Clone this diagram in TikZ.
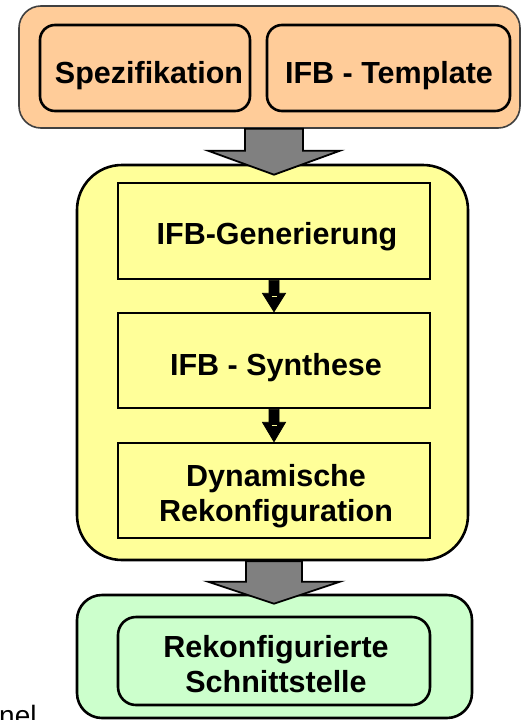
\documentclass[tikz,border=0pt]{standalone}
\usepackage{fontspec}
\setmainfont{Liberation Sans}
\usetikzlibrary{calc}
\definecolor{peach}{HTML}{FFCC99}
\definecolor{lightyellow}{HTML}{FFFF99}
\definecolor{mint}{HTML}{CCFFCC}
\definecolor{arrowgray}{HTML}{808080}
\begin{document}
\begin{tikzpicture}[x=1pt,y=-1pt,
  boxtext/.style={font=\fontsize{30.5}{35}\selectfont\bfseries, inner sep=0pt, anchor=base},
  outerbox/.style={draw=black, line width=2.6pt, rounded corners=#1},
  innerbox/.style={draw=black, line width=2.6pt},
  blockarrow/.style={draw=black, line width=1.8pt, fill=arrowgray, line join=miter},
  smallarrow/.style={fill=black, draw=black, line width=0.8pt}]
\useasboundingbox (0,0) rectangle (521,720);

% input stage
\node[outerbox=22pt, draw=black!75, line width=1.6pt, fill=peach,
      minimum width=501pt, minimum height=122pt] (input) at (269.5,67) {};
\node[innerbox, rounded corners=15pt, fill=peach,
      minimum width=210pt, minimum height=86pt] (spez) at (145,68) {};
\node[innerbox, rounded corners=15pt, fill=peach,
      minimum width=243pt, minimum height=86pt] (tmpl) at (388.5,68) {};
\node[boxtext] (spezT) at (149,83) {Spezifikation};
\node[boxtext] (tmplT) at (389,83) {IFB - Template};

% processing stage
\node[outerbox=45pt, fill=lightyellow,
      minimum width=391pt, minimum height=395pt] (proc) at (272.5,362.5) {};
\node[innerbox, fill=lightyellow,
      minimum width=312pt, minimum height=96pt] (gen) at (274,231) {};
\node[innerbox, fill=lightyellow,
      minimum width=312pt, minimum height=95pt] (syn) at (274,360.5) {};
\node[innerbox, fill=lightyellow,
      minimum width=312pt, minimum height=95pt] (dyn) at (274,490.5) {};
\node[boxtext] (genT) at (277,244) {IFB-Generierung};
\node[boxtext] (synT) at (276,375) {IFB - Synthese};
\node[boxtext] (dynT1) at (276,486.5) {Dynamische};
\node[boxtext] (dynT2) at (276,521.5) {Rekonfiguration};

% result stage
\node[outerbox=25pt, fill=mint,
      minimum width=395pt, minimum height=123pt] (result) at (274.5,656.5) {};
\node[innerbox, rounded corners=18pt, fill=mint,
      minimum width=312pt, minimum height=88pt] (iface) at (274,661) {};
\node[boxtext] (ifaceT1) at (276,657) {Rekonfigurierte};
\node[boxtext] (ifaceT2) at (276,692) {Schnittstelle};

% wide gray arrows between the stages
\draw[blockarrow] let \p1=(input.south), \p2=(gen.north) in
  (\x2-29pt,\y1) -- (\x2+29pt,\y1) -- (\x2+29pt,\y2+31pt) -- (\x2+66pt,\y2+31pt)
  -- (\x2,\y2+7pt) -- (\x2-66pt,\y2+31pt) -- (\x2-29pt,\y2+31pt) -- cycle;
\draw[blockarrow] let \p1=(proc.south), \p2=(iface.north) in
  (\x2-28pt,\y1) -- (\x2+28pt,\y1) -- (\x2+28pt,\y2+34pt) -- (\x2+66pt,\y2+34pt)
  -- (\x2,\y2+12pt) -- (\x2-66pt,\y2+34pt) -- (\x2-28pt,\y2+34pt) -- cycle;

% small black arrows inside the processing stage
\foreach \a/\b in {gen/syn, syn/dyn}{
  \fill[smallarrow] let \p1=(\a.south), \p2=(\b.north) in
    (\x1-5pt,\y1) -- (\x1+5pt,\y1) -- (\x1+5pt,\y1-13pt) -- (\x1+11.5pt,\y1-13pt)
    -- (\x1,\y2) -- (\x1-11.5pt,\y1-13pt) -- (\x1-5pt,\y1-13pt) -- cycle;
  \draw[lightyellow, line width=1pt] let \p1=(\a.south) in
    (\x1-2.5pt,\y1-16pt) -- (\x1+2.5pt,\y1-16pt);
}

% caption fragment at the lower left
\node[anchor=base west, font=\fontsize{28}{30}\selectfont, inner sep=0pt] (caption) at (-1,725) {nel};
\end{tikzpicture}
\end{document}
